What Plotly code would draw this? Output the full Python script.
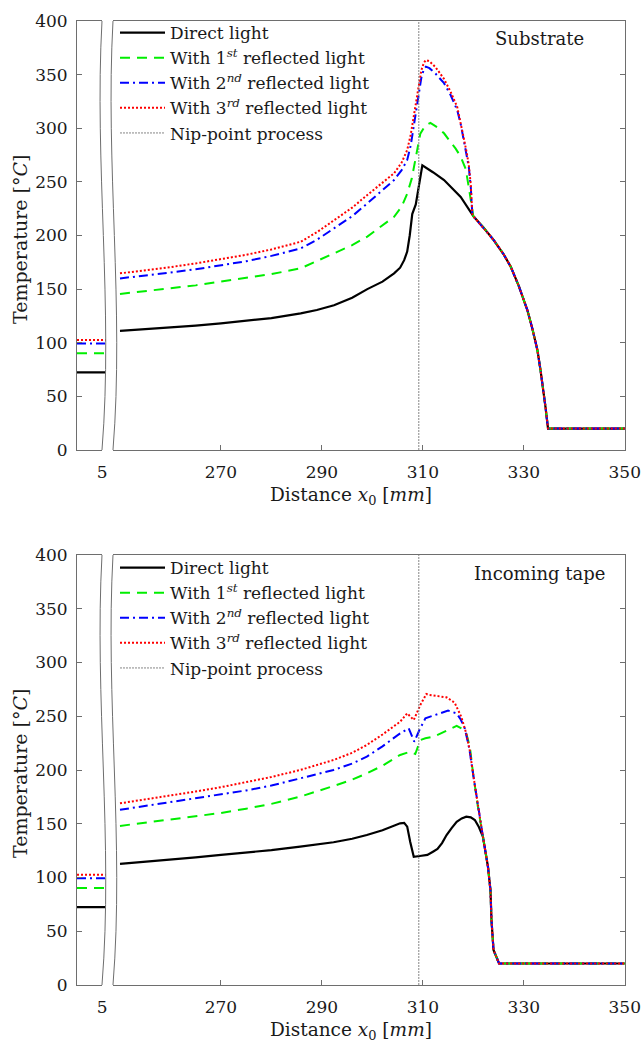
import plotly.graph_objects as go

# ---------------- data ----------------
names = ["Direct light",
         "With 1<sup><i>st</i></sup> reflected light",
         "With 2<sup><i>nd</i></sup> reflected light",
         "With 3<sup><i>rd</i></sup> reflected light"]
nip_x = 309.2

# left (broken) segment, x in [0, 6]
left_x = [0.0, 6.0]
left_direct = [72.4, 72.4]
left_r1 = [90.3, 90.3]
left_r2 = [99.3, 99.3]
left_r3 = [102.5, 102.5]

# ---- Substrate ----
sub_direct_x = [250, 255, 260, 265, 270, 275, 280, 285.8, 289, 292.4, 296, 299, 302, 304.3, 305.5, 306.3,
                306.9, 307.4, 307.9, 308.6, 309.2, 309.9, 312, 314.2, 317.5, 319.8]
sub_direct_y = [111, 112.5, 114, 116, 118, 120.5, 123, 127.4, 130.5, 135, 142, 150, 157, 164.7, 170, 177,
                185, 200, 220, 229, 245, 265.5, 259, 251.7, 236, 220]
sub_r1_x = [250, 255, 260, 265, 270, 275, 280, 285.8, 289, 292.4, 296, 299, 302, 304.3, 305.8, 306.9, 307.8,
            308.5, 309.0, 309.5, 310.5, 311.5, 313, 314.2, 315.5, 316.5, 317.5, 318.5, 319.1, 319.8]
sub_r1_y = [145.5, 148, 150.5, 153.5, 157, 160.5, 164, 169.4, 176, 183.4, 191, 199, 209, 217.5, 227, 239, 253,
            270, 284, 295, 302.5, 305, 300.5, 295.3, 287, 281, 273.5, 262, 245, 220]
sub_r23_x = [250, 255, 260, 265, 270, 275, 280, 285.8, 289, 292.4, 296, 299, 302, 304.3, 305.8, 306.9, 307.6,
             308.2, 308.7, 309.2, 309.7, 310.2, 310.6, 311.3, 312.5, 314.2, 315.5, 316.8, 317.5, 318.1, 318.7,
             319.1, 319.5, 319.8]
sub_r2_y = [160, 162.5, 165.5, 168.5, 172, 176, 181, 188, 196, 206.7, 218, 230, 242, 251.7, 261, 270.4, 284,
            301.5, 317, 332.6, 347, 355, 357.4, 356, 351, 342, 331, 317, 304, 289, 275, 264, 245, 220]
sub_r3_y = [164.7, 167.5, 170.5, 174, 178, 182, 187, 194.2, 203, 214.5, 226, 237.8, 249, 258, 268, 279.7, 294,
            310.8, 326, 341.9, 354, 361, 363.6, 362.5, 357, 346, 334, 320, 306, 291, 277, 266, 247, 220]
sub_tail_x = [320, 322, 324, 326, 327.4, 329, 330.7, 331.7, 332.7, 333.3, 333.8, 334.3, 334.8, 340, 345, 350]
sub_tail_y = [218, 207.5, 196, 182.5, 171, 153, 130.5, 113, 93, 75, 59, 40, 20, 20, 20, 20]

# ---- Incoming tape ----
tape_direct_x = [250, 255, 260, 265, 270, 275, 280, 285.7, 289, 292.3, 296, 298.9, 302, 304, 305.5, 306.3,
                 306.9, 307.5, 308.2, 309.4, 310.9, 312, 312.9, 313.8, 314.7, 315.7, 316.7, 317.7, 318.6,
                 319.5, 320.3, 321.1, 321.9]
tape_direct_y = [112.7, 114.5, 116.5, 118.8, 121, 123, 125.5, 128.7, 130.8, 132.8, 136, 139.5, 144, 148, 150.4,
                 150.8, 147.3, 133, 119.3, 120, 121, 124, 126.5, 132, 139.5, 146, 151.9, 155, 156.6,
                 156, 153.5, 147, 138]
tape_r1_x = [250, 255, 260, 265, 270, 275, 280, 285.7, 289, 292.3, 296, 298.9, 302, 305.5, 307.5, 308.5,
             309.5, 310.5, 312.2, 314, 315.5, 316.7, 317.7, 318.6, 319.3]
tape_r1_y = [148, 151, 154, 157, 160, 164, 168.5, 175.2, 180, 185.1, 191, 196.9, 204, 214, 217, 214.9,
             227.9, 229.5, 231, 235, 238.8, 241, 238.5, 234, 222]
tape_r2_x = [250, 255, 260, 265, 270, 275, 280, 285.7, 289, 292.3, 296, 298.9, 302, 305.5, 307.2, 308.3,
             309.3, 310.5, 312, 313.5, 315, 316.7, 317.5, 318.3, 319.2]
tape_r2_y = [163, 166.5, 170, 173.5, 177, 181, 185.5, 192.3, 196.5, 200, 206, 212.4, 222, 234.1, 238.8, 226.3,
             237, 248, 250.5, 252.7, 255.2, 252.7, 247, 238.8, 220]
tape_r3_x = [250, 255, 260, 265, 270, 275, 280, 285.7, 289, 292.3, 296, 298.9, 302, 305.5, 306.9, 308.2,
             309.5, 310.7, 311.2, 313, 314.7, 316.3, 317.6, 318.6, 319.3]
tape_r3_y = [169, 172.5, 176, 180, 184, 188.5, 193.5, 200, 205, 209.3, 216, 223.3, 233, 244.9, 252.7, 246.5,
             260.5, 270.7, 269.8, 268.5, 267.6, 262.6, 249.6, 234, 218]
tape_tail_x = [320, 320.9, 321.9, 322.9, 323.4, 323.6, 324, 325.1, 335, 350]
tape_tail_y = [195, 166, 138, 110, 88, 60.5, 32.6, 20, 20, 20]

y_ticks = [0, 50, 100, 150, 200, 250, 300, 350, 400]
x_ticks = [270, 290, 310, 330, 350]
left_tick = [5]

# ---------------- styles ----------------
FONT = "DejaVu Serif"
AXC = "#6e6e6e"
TXT = "#1a1a1a"
styles = [dict(color="black", width=2.2, dash="solid"),
          dict(color="#00ee00", width=2, dash="10px,7px"),
          dict(color="#0000ff", width=2, dash="9px,4px,2px,4px"),
          dict(color="#ff0000", width=2, dash="2px,2px")]


def with_tail(x, y, tx, ty):
    xs = list(x) + [a for a in tx if a > x[-1]]
    ys = list(y) + [b for a, b in zip(tx, ty) if a > x[-1]]
    return xs, ys


fig = go.Figure()

panels = [
    dict(xl="x", yl="y", xm="x2", ym="y2", legend="legend",
         left=[left_direct, left_r1, left_r2, left_r3],
         series=[(sub_direct_x, sub_direct_y), (sub_r1_x, sub_r1_y), (sub_r23_x, sub_r2_y), (sub_r23_x, sub_r3_y)],
         tail=(sub_tail_x, sub_tail_y)),
    dict(xl="x3", yl="y3", xm="x4", ym="y4", legend="legend2",
         left=[left_direct, left_r1, left_r2, left_r3],
         series=[(tape_direct_x, tape_direct_y), (tape_r1_x, tape_r1_y), (tape_r2_x, tape_r2_y), (tape_r3_x, tape_r3_y)],
         tail=(tape_tail_x, tape_tail_y)),
]

for p in panels:
    for i in range(4):
        fig.add_trace(go.Scatter(x=left_x, y=p["left"][i], mode="lines", line=styles[i],
                                 xaxis=p["xl"], yaxis=p["yl"], showlegend=False, hoverinfo="skip"))
    for i in range(4):
        xs, ys = with_tail(p["series"][i][0], p["series"][i][1], *p["tail"])
        fig.add_trace(go.Scatter(x=xs, y=ys, mode="lines", line=styles[i], name=names[i],
                                 xaxis=p["xm"], yaxis=p["ym"], legend=p["legend"]))
    fig.add_trace(go.Scatter(x=[nip_x, nip_x], y=[0, 400], mode="lines",
                             line=dict(color="#777777", width=0.9, dash="2px,1px"),
                             name="Nip-point process", xaxis=p["xm"], yaxis=p["ym"], legend=p["legend"]))

# ---------------- layout geometry (pixels) ----------------
W, H = 641, 1043
L, R, T, B = 77, 16, 21, 58
PW, PH = W - L - R, H - T - B
PXU = 5.05
left_end_px = 106.5
main_start_px = 113


def fx(px):
    return (px - L) / PW


def fy(py):
    return (H - B - py) / PH


top_dom = [fy(450), fy(21)]
bot_dom = [fy(985), fy(555)]
left_dom = [0, fx(left_end_px)]
main_dom = [fx(main_start_px), 1]
left_range = [0, (left_end_px - L) / PXU]
main_range = [350 - (W - R - main_start_px) / PXU, 350.05]

tickfont = dict(family=FONT, size=17, color=TXT)
common_x = dict(showline=True, linecolor=AXC, linewidth=1, showgrid=False, zeroline=False, tickfont=tickfont,
                ticklabeloverflow="allow", ticklabelstandoff=7, automargin=False)
common_y = dict(showline=True, linecolor=AXC, linewidth=1, showgrid=False, zeroline=False, range=[0, 400],
                tickvals=y_ticks, tickfont=tickfont, automargin=False)

layout = dict(
    width=W, height=H, margin=dict(l=L, r=R, t=T, b=B, autoexpand=False),
    autosize=False,
    plot_bgcolor="white", paper_bgcolor="white",
    font=dict(family=FONT, size=17, color=TXT),
    showlegend=True,
)
for (xl, yl, xm, ym, dom) in [("xaxis", "yaxis", "xaxis2", "yaxis2", top_dom),
                              ("xaxis3", "yaxis3", "xaxis4", "yaxis4", bot_dom)]:
    ylname = "y" + yl[5:]
    ymname = "y" + ym[5:]
    xlname = "x" + xl[5:]
    xmname = "x" + xm[5:]
    layout[xl] = dict(common_x, domain=left_dom, range=left_range, anchor=ylname, mirror=True,
                      tickvals=left_tick, ticks="")
    layout[xm] = dict(common_x, domain=main_dom, range=main_range, anchor=ymname, mirror=True,
                      tickvals=x_ticks, ticks="inside", ticklen=5, tickcolor=AXC)
    layout[yl] = dict(common_y, domain=dom, anchor=xlname, ticks="inside", ticklen=5, tickcolor=AXC,
                      ticklabelstandoff=5)
    layout[ym] = dict(common_y, domain=dom, anchor=xmname, side="right", ticks="inside", ticklen=5,
                      tickcolor=AXC, showticklabels=False)

leg_common = dict(font=dict(family=FONT, size=17, color=TXT), bgcolor="rgba(0,0,0,0)",
                  xanchor="left", yanchor="top", itemwidth=45, tracegroupgap=0)
layout["legend"] = dict(leg_common, x=fx(115), y=fy(15))
layout["legend2"] = dict(leg_common, x=fx(115), y=fy(550))
fig.update_layout(**layout)


# ---------------- axis break decoration ----------------
def bez(base, top, bot):
    h = bot - top
    return [(base, top), (base - 7.9, top + h / 3), (base + 11.5, top + 2 * h / 3), (base, bot)]


def P(pt):
    return f"{fx(pt[0]):.5f},{fy(pt[1]):.5f}"


shapes = []
for (top, bot) in [(21, 450), (555, 985)]:
    lc = bez(102, top, bot)
    rc = bez(113, top, bot)
    patch = (f"M {P((102, top - 2))} L {P(lc[0])} C {P(lc[1])} {P(lc[2])} {P(lc[3])} "
             f"L {P((102, bot + 2))} L {P((113, bot + 2))} L {P(rc[3])} C {P(rc[2])} {P(rc[1])} {P(rc[0])} "
             f"L {P((113, top - 2))} Z")
    shapes.append(dict(type="path", path=patch, xref="paper", yref="paper", fillcolor="white",
                       line=dict(width=0), layer="above"))
    for c in (lc, rc):
        shapes.append(dict(type="path", path=f"M {P(c[0])} C {P(c[1])} {P(c[2])} {P(c[3])}",
                           xref="paper", yref="paper", line=dict(color=AXC, width=1), layer="above"))
fig.update_layout(shapes=shapes)

# ---------------- annotations ----------------
ann = []
for (label, py) in [("Substrate", 38), ("Incoming tape", 573)]:
    ann.append(dict(text=label, x=fx(539), y=fy(py), xref="paper", yref="paper", showarrow=False,
                    xanchor="center", yanchor="middle", font=dict(family=FONT, size=18, color=TXT)))
for py in [240, 774]:
    ann.append(dict(text="Temperature [°<i>C</i>]", x=fx(20), y=fy(py), xref="paper", yref="paper",
                    showarrow=False, textangle=-90, xanchor="center", yanchor="middle",
                    font=dict(family=FONT, size=19, color=TXT)))
for py in [496, 1031]:
    ann.append(dict(text="Distance <i>x</i><sub>0</sub> [<i>mm</i>]", x=fx(351), y=fy(py), xref="paper",
                    yref="paper", showarrow=False, xanchor="center", yanchor="middle",
                    font=dict(family=FONT, size=18.5, color=TXT)))
fig.update_layout(annotations=ann)

fig.write_html("out.html", config={"displayModeBar": False, "responsive": False},
               post_script="document.body.style.margin='0';document.body.style.padding='0';"
                           "document.body.style.overflow='hidden';")
